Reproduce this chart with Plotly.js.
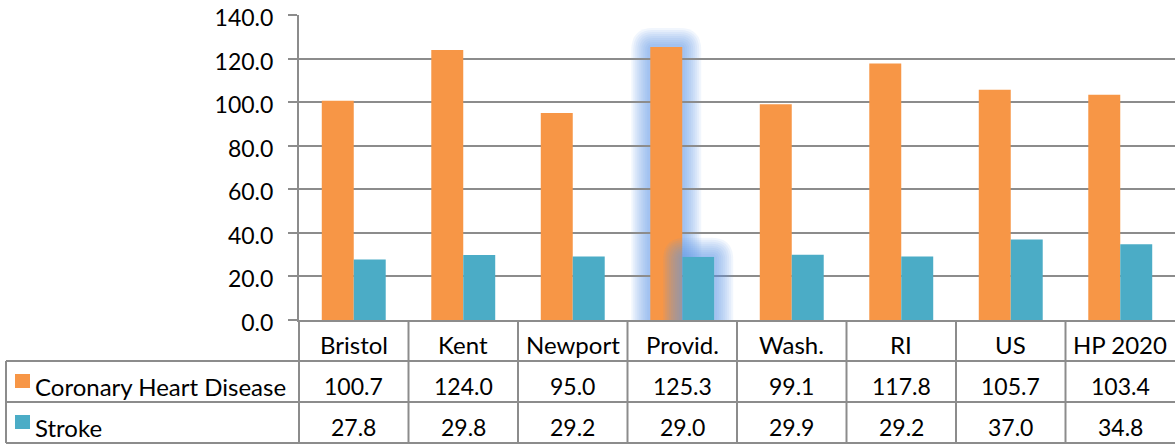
<!DOCTYPE html>
<html><head><meta charset="utf-8">
<script src="https://cdn.plot.ly/plotly-3.0.1.min.js"></script>
<style>html,body{margin:0;padding:0;background:#fff}#chart{width:1175px;height:445px}</style>
</head><body><div id="chart"></div>
<script>
const categories = ['Bristol','Kent','Newport','Provid.','Wash.','RI','US','HP 2020'];
const seriesNames = ['Coronary Heart Disease','Stroke'];
const chdValues = [100.7,124.0,95.0,125.3,99.1,117.8,105.7,103.4];
const strokeValues = [27.8,29.8,29.2,29.0,29.9,29.2,37.0,34.8];
const yTickValues = [0,20,40,60,80,100,120,140];
const highlighted = 'Provid.';

const W=1175,H=445,L=299,R=0,T=15,B=125;
const pw=W-L-R, ph=H-T-B;
const yMax=140;
const pxPerX=pw/categories.length, pxPerY=ph/yMax;
const bargap=0.416, barW=(1-bargap)/2;
const GRID='#8c8c8c';
const FONT='Lato, "Open Sans", sans-serif';
const colors=['#F79646','#4BACC6'];
const FS_TEXT=24, FS_NUM=23;

const px2X = p => (p-L)/pw;
const px2Y = p => (H-B-p)/ph;

const shapes=[];
const annotations=[];
function line(x0,y0,x1,y1){
  shapes.push({type:'line',xref:'paper',yref:'paper',x0:px2X(x0),x1:px2X(x1),y0:px2Y(y0),y1:px2Y(y1),
    line:{color:GRID,width:2},layer:'above'});
}
// table grid
[361,402,443].forEach(y=>line(6,y,W,y));
line(6,361,6,443);
line(L,320,L,443);
for(let i=1;i<categories.length;i++){ const x=L+i*pxPerX; line(x,320,x,443); }

// header labels & values
const rows=[{vals:chdValues,y:386},{vals:strokeValues,y:427}];
categories.forEach((c,i)=>{
  annotations.push({xref:'x',yref:'paper',x:c,y:px2Y(344),text:c,showarrow:false,xanchor:'center',yanchor:'middle',font:{family:FONT,size:FS_TEXT,color:'#000'}});
  rows.forEach(r=>{
    annotations.push({xref:'x',yref:'paper',x:c,y:px2Y(r.y),text:r.vals[i].toFixed(1),showarrow:false,xanchor:'center',yanchor:'middle',font:{family:FONT,size:FS_NUM,color:'#000'}});
  });
});
// row legend
seriesNames.forEach((n,k)=>{
  const cy=rows[k].y-5;
  shapes.push({type:'rect',xref:'paper',yref:'paper',x0:px2X(15),x1:px2X(30),y0:px2Y(cy-7),y1:px2Y(cy+7),fillcolor:colors[k],line:{width:0},layer:'above'});
  annotations.push({xref:'paper',yref:'paper',x:px2X(33),y:px2Y(rows[k].y),text:n,showarrow:false,xanchor:'left',yanchor:'middle',font:{family:FONT,size:FS_TEXT,color:'#000'}});
});

// glow around highlighted category
function rrect(x0,x1,y0,y1,rx,ry){
  return `M${x0+rx},${y0} L${x1-rx},${y0} Q${x1},${y0} ${x1},${y0+ry} L${x1},${y1-ry} Q${x1},${y1} ${x1-rx},${y1} L${x0+rx},${y1} Q${x0},${y1} ${x0},${y1-ry} L${x0},${y0+ry} Q${x0},${y0} ${x0+rx},${y0} Z`;
}
const hi=categories.indexOf(highlighted);
const glowColor='#5a96ea';
const layers=[3,5,7,9,11,13,15,17,19];
layers.forEach(e=>{
  const ex=e/pxPerX, ey=e/pxPerY, r=(e+3);
  shapes.push({type:'path',xref:'x',yref:'y',layer:'below',
    path:rrect(hi-barW-ex,hi+ex,-20,chdValues[hi]+ey,r/pxPerX,r/pxPerY),
    fillcolor:glowColor,opacity:0.085,line:{width:0}});
});
layers.forEach(e=>{
  const ex=e/pxPerX, ey=e/pxPerY, r=(e+3);
  const bx0=hi, bx1=hi+barW, by1=strokeValues[hi];
  const hole=`M${bx0},-30 L${bx0},${by1} L${bx1},${by1} L${bx1},-30 Z`;
  shapes.push({type:'path',xref:'x',yref:'y',layer:'above',fillrule:'evenodd',
    path:rrect(bx0-ex,bx1+ex,-20,by1+ey,r/pxPerX,r/pxPerY)+' '+hole,
    fillcolor:glowColor,opacity:0.085,line:{width:0}});
});

const data=[
  {type:'bar',name:seriesNames[0],x:categories,y:chdValues,marker:{color:colors[0],line:{width:0}},hoverinfo:'skip'},
  {type:'bar',name:seriesNames[1],x:categories,y:strokeValues,marker:{color:colors[1],line:{width:0}},hoverinfo:'skip'}
];
const layout={
  width:W,height:H,margin:{l:L,r:R,t:T,b:B},paper_bgcolor:'#fff',plot_bgcolor:'#fff',
  showlegend:false,barmode:'group',bargap:bargap,bargroupgap:0,
  font:{family:FONT,size:FS_NUM,color:'#000'},
  xaxis:{type:'category',categoryarray:categories,range:[-0.5,categories.length-0.5],showticklabels:false,ticks:'',showgrid:false,zeroline:false,showline:true,linecolor:GRID,linewidth:2,fixedrange:true},
  yaxis:{range:[0,yMax+0.02],tickvals:yTickValues,tickformat:'.1f',ticks:'outside',ticklen:9,tickwidth:2,tickcolor:GRID,
    showgrid:true,gridcolor:GRID,gridwidth:2,zeroline:false,showline:true,linecolor:GRID,linewidth:2,
    tickfont:{family:FONT,size:FS_NUM,color:'#000'},ticklabelshift:3,ticklabelstandoff:10,ticklabeloverflow:'allow',fixedrange:true},
  shapes:shapes,annotations:annotations
};
Plotly.newPlot('chart',data,layout,{displayModeBar:false,staticPlot:true});
</script></body></html>
